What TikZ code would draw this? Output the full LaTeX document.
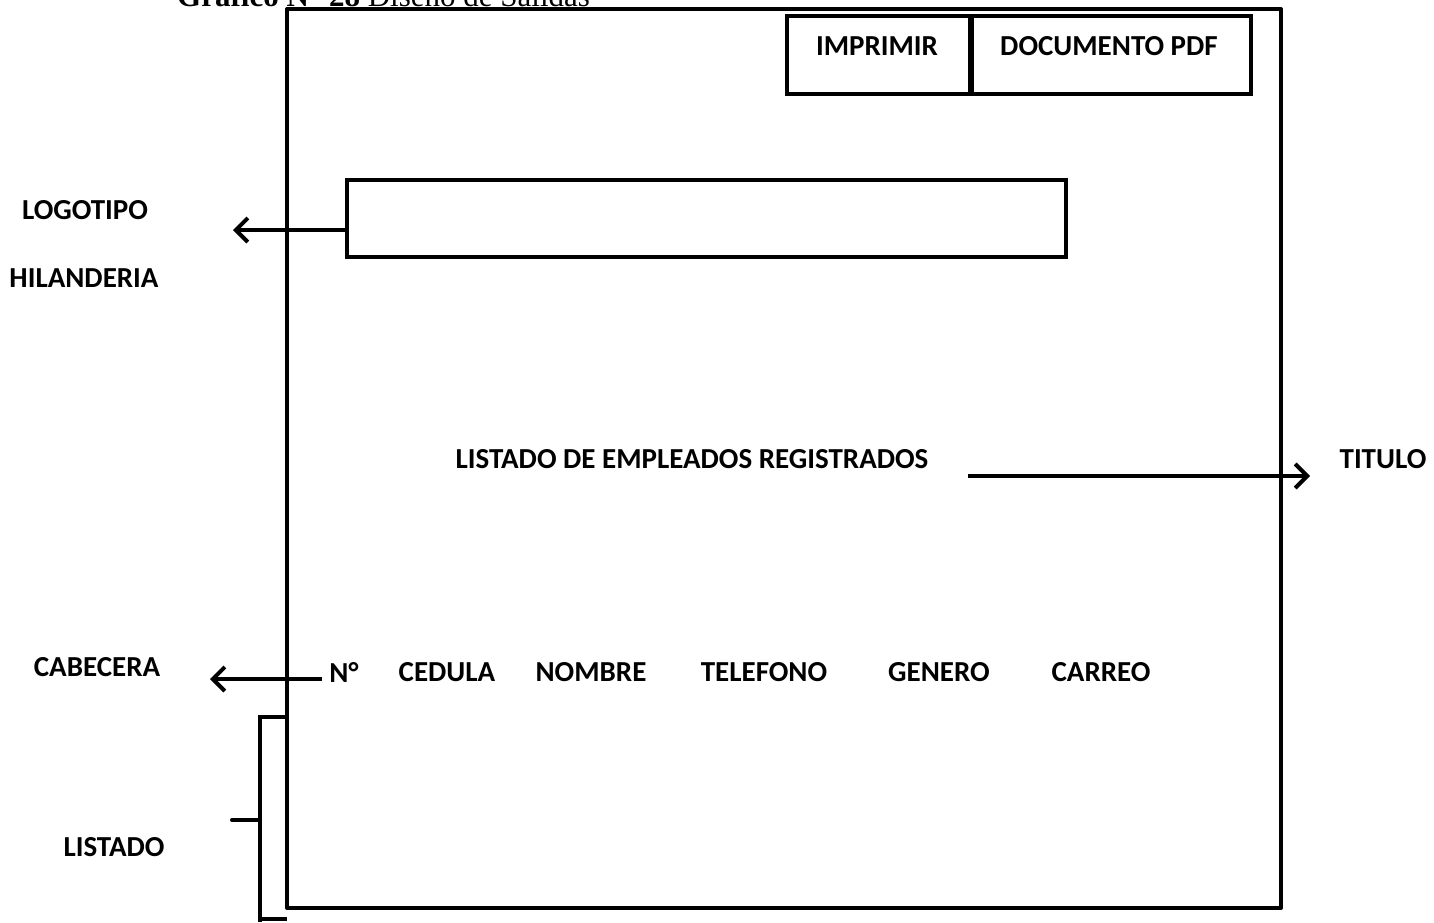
\documentclass[tikz,border=0pt]{standalone}
\usepackage{fontspec}
\setmainfont{Carlito}
\newfontfamily\serif{Liberation Serif}
\usetikzlibrary{arrows.meta}
\tikzset{
  px/.style={x=1pt,y=-1pt},
  thick line/.style={line width=4pt},
  box/.style={draw,line width=4pt,inner sep=0pt,anchor=north west},
  lbl/.style={font=\bfseries\fontsize{29}{34}\selectfont,inner sep=0pt},
  arr/.style={line width=4pt,-{Straight Barb[length=12pt,width=24pt,line width=4pt]}},
}
\begin{document}
\begin{tikzpicture}[px]
\useasboundingbox (0,0) rectangle (1434,922);
% title (cut at top)
\node[anchor=base west,inner sep=0pt,font=\serif\fontsize{31}{36}\selectfont] (cap) at (177,6) {\textbf{Grafico N° 28} Diseño de Salidas};
% main frame
\draw[thick line,line join=round] (287,9) rectangle (1281,908);
% buttons
\node[box,minimum width=183pt,minimum height=78pt] (imp) at (785,14) {};
\node[box,minimum width=279pt,minimum height=78pt] (pdf) at (970,14) {};
\node[lbl] at (877,46) {IMPRIMIR};
\node[lbl] at (1109,46) {DOCUMENTO PDF};
% logo box
\node[box,minimum width=719pt,minimum height=77pt] (logo) at (345,178) {};
\coordinate (logoend) at (233,230);
\draw[arr] (logo.west |- 0,230) -- (logoend);
\node[lbl] (logotipo) at (85,210) {LOGOTIPO};
\node[lbl] (hil) at (84,278) {HILANDERIA};
% title
\node[lbl] (titletext) at (692,459) {LISTADO DE EMPLEADOS REGISTRADOS};
\coordinate (tstart) at (968,476);
\coordinate (tend) at (1310,476);
\draw[arr] (tstart) -- (tend);
\node[lbl] (titulo) at (1383,459) {TITULO};
% header
\node[lbl] (cab) at (97,667) {CABECERA};
\coordinate (cstart) at (322,679);
\coordinate (cend) at (210,679);
\draw[arr] (cstart) -- (cend);
\node[lbl] (h1) at (344,672) {N°};
\node[lbl] (h2) at (447,672) {CEDULA};
\node[lbl] (h3) at (591,672) {NOMBRE};
\node[lbl] (h4) at (764,672) {TELEFONO};
\node[lbl] (h5) at (939,672) {GENERO};
\node[lbl] (h6) at (1101,672) {CARREO};
% listado bracket
\coordinate (bt) at (287,717);
\coordinate (bb) at (287,919);
\coordinate (tick) at (232,820);
\draw[thick line] (bt) -- (260,717) -- (260,922);
\draw[thick line] (260,919) -- (bb);
\draw[thick line,line cap=round] (tick) -- (260,820);
\node[lbl] (listado) at (114,847) {LISTADO};
\end{tikzpicture}
\end{document}
